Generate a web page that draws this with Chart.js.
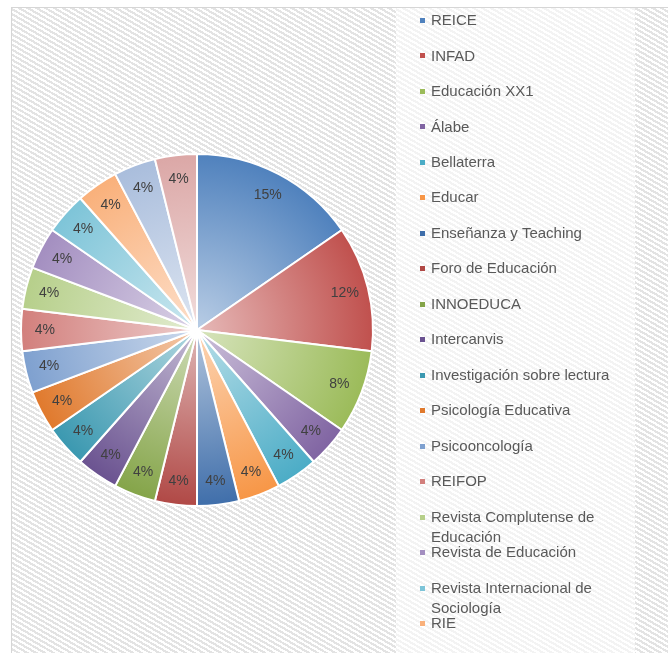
<!DOCTYPE html>
<html>
<head>
<meta charset="utf-8">
<script src="https://cdn.jsdelivr.net/npm/chart.js@4.4.0/dist/chart.umd.min.js"></script>
<style>
html,body{margin:0;padding:0;background:#fff;}
#wrap{position:relative;width:668px;height:653px;overflow:hidden;background:#fff;}
#frame{position:absolute;left:11px;top:7px;right:0;bottom:0;border-left:1px solid #d6d6d6;border-top:1px solid #d6d6d6;
  background:repeating-linear-gradient(30deg,#ffffff 0px,#ffffff 2.2px,#e3e3e3 2.2px,#e3e3e3 4.4px);}
#legbg{position:absolute;left:396px;top:8px;width:239px;bottom:0;
  background:repeating-linear-gradient(30deg,#ffffff 0px,#ffffff 2.2px,#f3f3f3 2.2px,#f3f3f3 4.4px);}
#box{position:absolute;left:0;top:0;width:668px;height:653px;}
</style>
</head>
<body>
<div id="wrap">
  <div id="frame"></div>
  <div id="legbg"></div>
  <div id="box"><canvas id="c"></canvas></div>
</div>
<script>
// ---- data ----
const categories = [
  "REICE", "INFAD", "Educación XX1", "Álabe", "Bellaterra", "Educar",
  "Enseñanza y Teaching", "Foro de Educación", "INNOEDUCA", "Intercanvis",
  "Investigación sobre lectura", "Psicología Educativa", "Psicooncología",
  "REIFOP", "Revista Complutense de Educación", "Revista de Educación",
  "Revista Internacional de Sociología", "RIE",
  "Sin nombre visible 1", "Sin nombre visible 2"
];
const counts = [4, 3, 2, 1, 1, 1, 1, 1, 1, 1, 1, 1, 1, 1, 1, 1, 1, 1, 1, 1];
const sliceColors = [
  "#4F81BD", "#C0504D", "#9BBB59", "#8064A2", "#4BACC6", "#F79646",
  "#3F6EAA", "#B04845", "#84A448", "#6A5290", "#3A98B0", "#E0792C",
  "#7EA0CF", "#D27F7C", "#B6CF8A", "#A38EC0", "#7DC4D8", "#F9B07A",
  "#A9BDDC", "#DBA7A6"
];
const legendShown = 18;

function tint(hex, f) {
  const n = parseInt(hex.slice(1), 16);
  const r = (n >> 16) & 255, g = (n >> 8) & 255, b = n & 255;
  const m = v => Math.round(v + (255 - v) * f);
  return "rgb(" + m(r) + "," + m(g) + "," + m(b) + ")";
}

const pieLabels = {
  id: "pieLabels",
  afterDatasetsDraw(chart) {
    const ctx = chart.ctx;
    const meta = chart.getDatasetMeta(0);
    const data = chart.data.datasets[0].data;
    const total = data.reduce((a, b) => a + b, 0);
    ctx.save();
    ctx.font = '14px "Liberation Sans", Arial, sans-serif';
    ctx.fillStyle = "#404040";
    ctx.textAlign = "center";
    ctx.textBaseline = "middle";
    meta.data.forEach((arc, i) => {
      const p = arc.getProps(["x", "y", "startAngle", "endAngle", "outerRadius"], true);
      const mid = (p.startAngle + p.endAngle) / 2;
      const r = p.outerRadius * 0.865;
      ctx.fillText(Math.round(data[i] / total * 100) + "%", p.x + Math.cos(mid) * r, p.y + Math.sin(mid) * r);
    });
    ctx.restore();
  }
};

const sideLegend = {
  id: "sideLegend",
  afterDraw(chart, args, o) {
    const ctx = chart.ctx;
    const labels = chart.data.labels;
    ctx.save();
    ctx.font = '15px "Liberation Sans", Arial, sans-serif';
    ctx.textBaseline = "middle";
    ctx.textAlign = "left";
    for (let i = 0; i < Math.min(o.count, labels.length); i++) {
      const y = o.top + i * o.step;
      ctx.fillStyle = sliceColors[i];
      ctx.fillRect(o.x - 11, Math.round(y - 3), 5, 5);
      // wrap
      const words = labels[i].split(" ");
      const lines = [];
      let cur = "";
      words.forEach(w => {
        const t = cur ? cur + " " + w : w;
        if (ctx.measureText(t).width > o.maxWidth && cur) { lines.push(cur); cur = w; }
        else cur = t;
      });
      if (cur) lines.push(cur);
      ctx.fillStyle = "#595959";
      lines.forEach((ln, k) => ctx.fillText(ln, o.x, y + k * o.lineStep));
    }
    ctx.restore();
  }
};

new Chart(document.getElementById("c"), {
  type: "pie",
  data: {
    labels: categories,
    datasets: [{
      data: counts,
      backgroundColor: (c) => {
        const base = sliceColors[c.dataIndex];
        const chart = c.chart;
        const a = chart.chartArea;
        if (!a) return base;
        const cx = (a.left + a.right) / 2, cy = (a.top + a.bottom) / 2;
        const r = Math.min(a.right - a.left, a.bottom - a.top) / 2;
        const g = chart.ctx.createRadialGradient(cx, cy, 0, cx, cy, r);
        g.addColorStop(0, tint(base, 0.6));
        g.addColorStop(1, base);
        return g;
      },
      borderColor: "#ffffff",
      borderWidth: 2
    }]
  },
  options: {
    responsive: true,
    maintainAspectRatio: false,
    animation: false,
    events: [],
    layout: { padding: { left: 20, right: 294, top: 153, bottom: 146 } },
    plugins: {
      legend: { display: false },
      tooltip: { enabled: false },
      sideLegend: { x: 431, top: 21, step: 35.47, lineStep: 20, maxWidth: 195, count: legendShown }
    }
  },
  plugins: [pieLabels, sideLegend]
});
</script>
</body>
</html>
